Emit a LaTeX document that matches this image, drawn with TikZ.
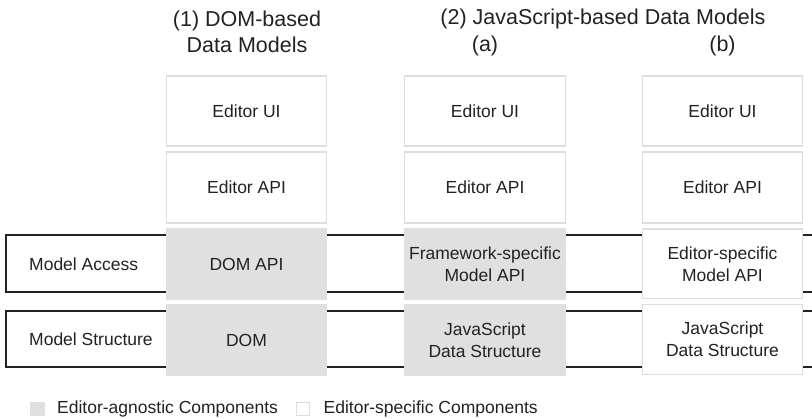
\documentclass[tikz,border=0pt]{standalone}
\usepackage{fontspec}
\setmainfont{Liberation Sans}
\definecolor{ink}{HTML}{222222}
\definecolor{agn}{HTML}{E0E0E0}
\definecolor{edge}{HTML}{DEDEDE}
\begin{document}
\begin{tikzpicture}[x=1pt,y=-1pt,
  body/.style={text=ink, font=\fontsize{17.5}{22}\selectfont, align=center, inner sep=0pt},
  head/.style={text=ink, font=\fontsize{21.5}{26.5}\selectfont, align=center, inner sep=0pt},
  comp/.style={body, minimum width=#1, outer sep=0pt},
  agnostic/.style={comp=#1, fill=agn, draw=none},
  specific/.style={comp=#1, fill=white, draw=edge, line width=1.3pt},
  lane/.style={draw=ink, line width=1.2pt, fill=white},
  rowui/.style={minimum height=70pt},
  rowapi/.style={minimum height=71pt},
  rowacc/.style={minimum height=72pt},
  rowstr/.style={minimum height=72pt},
  swatch/.style={minimum size=14.5pt, inner sep=0pt}
]
\clip (0,0) rectangle (812,419);
\fill[white] (0,0) rectangle (812,419);

% horizontal layers behind the component stacks
\draw[lane] (6,235) rectangle (830,292);
\draw[lane] (6,311) rectangle (830,367);
\node[body, anchor=west] (access) at (29,264) {Model Access};
\node[body, anchor=west] (structure) at (29,339.5) {Model Structure};

% column headings
\node[head] (h1) at (247,32) {(1) DOM-based\\Data Models};
\node[head] (h2) at (603,18.5) {(2) JavaScript-based Data Models};
\node[head] (ha) at (485,46) {(a)};
\node[head] (hb) at (722.5,46) {(b)};

% (1) DOM-based
\node[specific=159.7pt, rowui]  (ui1)  at (246.5,111)   {Editor UI};
\node[specific=159.7pt, rowapi] (api1) at (246.5,187.5) {Editor API};
\node[agnostic=161pt, rowacc]   (acc1) at (246.5,264)   {DOM API};
\node[agnostic=161pt, rowstr]   (str1) at (246.5,340)   {DOM};

% (2a) framework data model
\node[specific=160.7pt, rowui]  (ui2)  at (485,111)   {Editor UI};
\node[specific=160.7pt, rowapi] (api2) at (485,187.5) {Editor API};
\node[agnostic=162pt, rowacc]   (acc2) at (485,264)   {Framework-specific\\Model API};
\node[agnostic=162pt, rowstr]   (str2) at (485,340)   {JavaScript\\Data Structure};

% (2b) editor-specific data model
\node[specific=159.7pt, rowui]  (ui3)  at (722.5,111)   {Editor UI};
\node[specific=159.7pt, rowapi] (api3) at (722.5,187.5) {Editor API};
\node[specific=159.7pt, minimum height=69.7pt] (acc3) at (722.5,264) {Editor-specific\\Model API};
\node[specific=159.7pt, minimum height=69.7pt] (str3) at (722.5,339.5) {JavaScript\\Data Structure};

% legend
\node[swatch, fill=agn] (keyagn) at (37.5,409) {};
\node[body, anchor=west] (keyagntxt) at (57,409) {Editor-agnostic Components};
\node[swatch, fill=white, draw=edge, line width=1.2pt, minimum size=13.3pt] (keyspec) at (303,409) {};
\node[body, anchor=west] (keyspectxt) at (323.5,409) {Editor-specific Components};
\end{tikzpicture}
\end{document}
